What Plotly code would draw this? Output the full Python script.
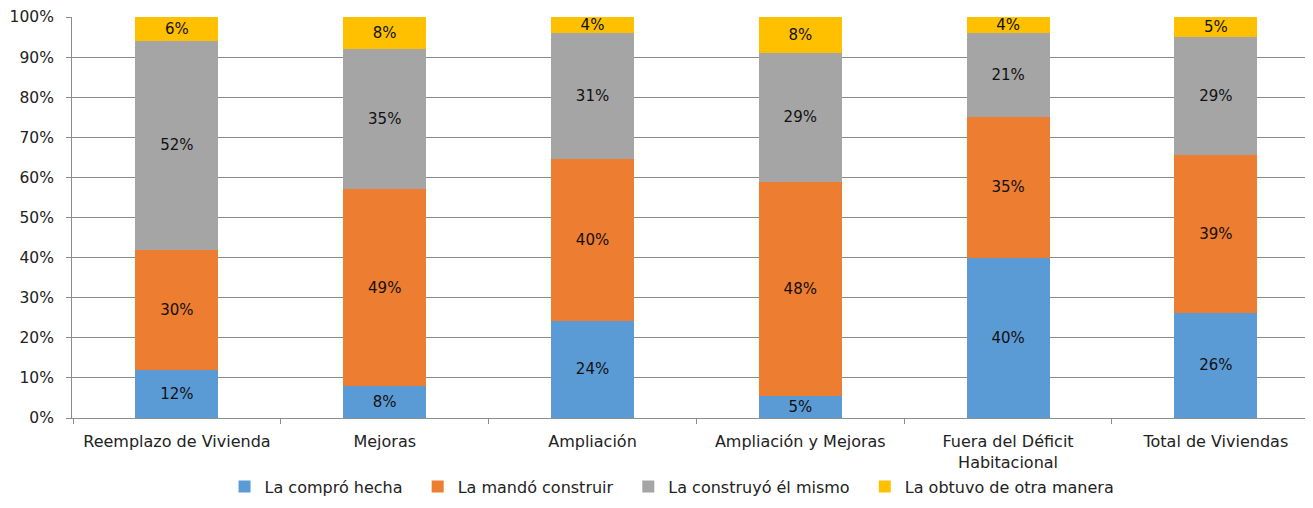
import plotly.graph_objects as go

categories = ["Reemplazo de Vivienda", "Mejoras", "Ampliación", "Ampliación y Mejoras",
              "Fuera del Déficit<br>Habitacional", "Total de Viviendas"]
compro_hecha = [12, 8, 24, 5, 40, 26]
mando_construir = [30, 49, 40, 48, 35, 39]
construyo_el_mismo = [52, 35, 31, 29, 21, 29]
otra_manera = [6, 8, 4, 8, 4, 5]
y_ticks = [0, 10, 20, 30, 40, 50, 60, 70, 80, 90, 100]

series = [
    ("La compró hecha", compro_hecha, "#5B9BD5"),
    ("La mandó construir", mando_construir, "#ED7D31"),
    ("La construyó él mismo", construyo_el_mismo, "#A5A5A5"),
    ("La obtuvo de otra manera", otra_manera, "#FFC000"),
]

FONT = "DejaVu Sans, Verdana, sans-serif"
fig = go.Figure()
for name, vals, color in series:
    fig.add_trace(go.Bar(
        name=name + "\u00a0\u00a0", x=categories, y=vals,
        marker=dict(color=color, line=dict(width=0)),
        text=[f"{v}%" for v in vals],
        textposition="inside", insidetextanchor="middle", textangle=0,
        textfont=dict(family=FONT, size=15, color="#111111"),
    ))

fig.update_layout(
    barmode="stack", barnorm="percent", bargap=0.60,
    width=1297, height=492,
    margin=dict(l=64, r=0, t=9, b=82),
    paper_bgcolor="white", plot_bgcolor="white",
    font=dict(family=FONT, size=15, color="#222222"),
    uniformtext=dict(minsize=15, mode="show"),
    showlegend=True,
    legend=dict(orientation="h", x=0.4907, xanchor="center",
                yref="container", y=0.027, yanchor="middle",
                font=dict(family=FONT, size=16, color="#222222"),
                itemwidth=30, traceorder="normal", tracegroupgap=0),
)
fig.update_yaxes(
    range=[0, 100], tickvals=y_ticks, ticktext=[f"{t}%" for t in y_ticks],
    showgrid=True, gridcolor="#8C8C8C", gridwidth=1,
    showline=True, linecolor="#8C8C8C", linewidth=1,
    ticks="outside", ticklen=5, tickcolor="#8C8C8C",
    tickfont=dict(family=FONT, size=15.5, color="#222222"), zeroline=False,
    ticklabelstandoff=9, automargin=False,
)
fig.update_xaxes(
    range=[-0.505, 5.429],
    showline=True, linecolor="#8C8C8C", linewidth=1,
    ticks="outside", ticklen=5, tickcolor="#8C8C8C", tickson="boundaries",
    tickfont=dict(family=FONT, size=16, color="#222222"),
    ticklabelstandoff=9, automargin=False,
)
fig.write_html("out.html", config={"displayModeBar": False})
